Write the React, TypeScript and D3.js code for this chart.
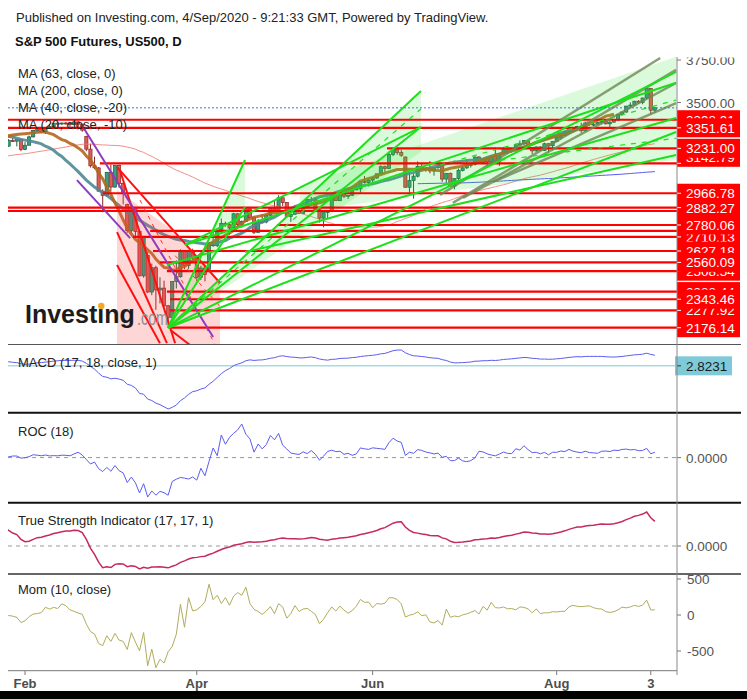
import React from "react";
import * as d3 from "d3";

// ---------- DATA ----------
// warm-up closes (Sep 11 2019 .. Jan 24 2020) used by the moving averages / oscillators
const histCloses = [
  3000, 3009, 3007, 2998, 3006, 3007, 3006, 2992, 2992, 2967, 2985, 2977, 2962, 2977,
  2940, 2888, 2910, 2952, 2939, 2893, 2919, 2938, 2970, 2966, 2996, 2990, 2998, 2986, 3007, 2996, 3004, 3010, 3023, 3039, 3036, 3047, 3038,
  3067, 3078, 3075, 3076, 3085, 3093, 3087, 3091, 3094, 3097, 3120, 3122, 3120, 3108, 3104, 3110, 3134, 3141, 3153, 3153, 3141,
  3114, 3093, 3113, 3117, 3146, 3136, 3133, 3142, 3169, 3169, 3191, 3192, 3191, 3205, 3221, 3224, 3223, 3223, 3240, 3240, 3221, 3231,
  3231, 3258, 3235, 3246, 3237, 3253, 3275, 3265, 3288, 3283, 3289, 3317, 3330, 3330, 3321, 3321, 3326, 3295,
];

const monthKeys = ["2020-01", "2020-02", "2020-03", "2020-04", "2020-05", "2020-06", "2020-07", "2020-08", "2020-09"];
const monthDays = [
  [27, 28, 29, 30, 31],
  [3, 4, 5, 6, 7, 10, 11, 12, 13, 14, 17, 18, 19, 20, 21, 24, 25, 26, 27, 28],
  [2, 3, 4, 5, 6, 9, 10, 11, 12, 13, 16, 17, 18, 19, 20, 23, 24, 25, 26, 27, 30, 31],
  [1, 2, 3, 6, 7, 8, 9, 10, 13, 14, 15, 16, 17, 20, 21, 22, 23, 24, 27, 28, 29, 30],
  [1, 4, 5, 6, 7, 8, 11, 12, 13, 14, 15, 18, 19, 20, 21, 22, 25, 26, 27, 28, 29],
  [1, 2, 3, 4, 5, 8, 9, 10, 11, 12, 15, 16, 17, 18, 19, 22, 23, 24, 25, 26, 29, 30],
  [1, 2, 3, 6, 7, 8, 9, 10, 13, 14, 15, 16, 17, 20, 21, 22, 23, 24, 27, 28, 29, 30, 31],
  [3, 4, 5, 6, 7, 10, 11, 12, 13, 14, 17, 18, 19, 20, 21, 24, 25, 26, 27, 28, 31],
  [1, 2, 3, 4],
];

// [open, high, low, close]
const janBars = [[3270,3272,3234,3244],[3244,3285,3240,3276],[3276,3293,3268,3273],[3273,3285,3242,3284],[3284,3288,3214,3225]];
const febBars = [
  [3225,3268,3220,3249],[3249,3306,3249,3298],[3298,3337,3295,3335],[3335,3347,3330,3346],[3346,3348,3322,3328],
  [3328,3352,3315,3352],[3352,3375,3350,3358],[3358,3381,3356,3379],[3379,3385,3360,3374],[3374,3381,3367,3380],
  [3380,3386,3370,3378],[3378,3380,3356,3370],[3370,3397,3368,3386],[3386,3392,3342,3373],[3373,3374,3328,3338],
  [3300,3305,3214,3226],[3226,3258,3118,3128],[3128,3182,3108,3116],[3116,3120,2977,2979],[2979,2990,2855,2954],
];
const marBars = [
  [2954,3090,2946,3090],[3090,3136,2976,3003],[3003,3130,3000,3130],[3130,3135,2999,3024],[3024,3030,2901,2972],
  [2900,2905,2734,2747],[2747,2882,2734,2882],[2882,2885,2707,2741],[2741,2750,2478,2481],[2481,2711,2470,2711],
  [2600,2620,2380,2386],[2386,2553,2367,2529],[2529,2540,2281,2398],[2398,2473,2319,2409],[2409,2453,2295,2305],
  [2305,2310,2176,2237],[2237,2449,2230,2447],[2447,2572,2407,2476],[2476,2637,2470,2630],[2630,2632,2520,2541],
  [2541,2631,2520,2627],[2627,2641,2572,2585],
];
const aprBars = [
  [2585,2590,2448,2471],[2471,2540,2456,2527],[2527,2539,2448,2489],[2520,2677,2515,2664],[2664,2757,2652,2659],
  [2659,2761,2650,2750],[2750,2818,2740,2790],[2790,2800,2770,2782],[2782,2790,2722,2762],[2762,2852,2760,2846],
  [2846,2848,2761,2783],[2783,2807,2765,2800],[2800,2880,2798,2875],[2875,2877,2821,2823],[2823,2830,2727,2737],
  [2737,2815,2735,2799],[2799,2844,2790,2798],[2798,2842,2790,2837],[2837,2887,2832,2879],[2879,2921,2860,2863],
  [2863,2955,2860,2940],[2940,2945,2892,2912],
];
const mayBars = [
  [2912,2915,2822,2831],[2831,2844,2798,2843],[2843,2898,2840,2868],[2868,2889,2846,2848],[2848,2892,2845,2881],
  [2881,2932,2878,2930],[2930,2945,2909,2930],[2930,2945,2869,2870],[2870,2875,2794,2820],[2820,2853,2766,2853],
  [2853,2865,2816,2864],[2864,2968,2860,2954],[2954,2964,2922,2923],[2923,2981,2920,2972],[2972,2978,2938,2949],
  [2949,2957,2933,2955],[2955,2993,2950,2990],[2990,3021,2985,2992],[2992,3036,2970,3036],[3036,3068,3024,3030],
  [3030,3050,3007,3044],
];
const junBars = [
  [3044,3063,3031,3056],[3056,3081,3052,3081],[3081,3131,3078,3123],[3123,3129,3091,3112],[3112,3212,3108,3194],
  [3194,3231,3185,3229],[3229,3230,3193,3207],[3207,3223,3181,3190],[3180,3182,2999,3002],[3002,3089,2970,3041],
  [3041,3079,2935,3067],[3067,3154,3060,3125],[3125,3141,3108,3114],[3114,3120,3093,3115],[3115,3156,3084,3098],
  [3098,3121,3070,3118],[3118,3155,3110,3131],[3131,3134,3033,3050],[3050,3086,3025,3084],[3084,3088,3004,3009],
  [3009,3054,2990,3053],[3053,3112,3045,3100],
];
const julBars = [
  [3100,3128,3095,3116],[3116,3165,3110,3130],[3130,3140,3118,3135],[3135,3183,3130,3180],[3180,3184,3142,3145],
  [3145,3172,3137,3170],[3170,3179,3115,3152],[3152,3186,3136,3185],[3185,3236,3150,3155],[3155,3200,3128,3198],
  [3198,3238,3195,3227],[3227,3228,3198,3216],[3216,3233,3205,3225],[3225,3258,3212,3252],[3252,3277,3248,3257],
  [3257,3279,3251,3276],[3276,3280,3230,3236],[3236,3238,3198,3216],[3216,3242,3210,3239],[3239,3243,3216,3218],
  [3218,3264,3215,3258],[3258,3260,3205,3246],[3246,3272,3220,3271],
];
const augBars = [
  [3271,3302,3268,3295],[3295,3307,3282,3307],[3307,3331,3300,3328],[3328,3352,3314,3349],[3349,3352,3329,3351],
  [3351,3364,3336,3360],[3360,3382,3322,3334],[3334,3387,3330,3380],[3380,3388,3363,3373],[3373,3380,3362,3373],
  [3373,3387,3370,3382],[3382,3396,3371,3390],[3390,3400,3371,3375],[3375,3391,3354,3385],[3385,3399,3380,3397],
  [3397,3433,3395,3431],[3431,3445,3424,3444],[3444,3481,3440,3479],[3479,3501,3469,3485],[3485,3510,3480,3508],
  [3508,3514,3493,3500],
];
const sepBars = [[3500,3528,3490,3527],[3527,3590,3520,3582],[3582,3586,3430,3455],[3455,3474,3440,3469]];

const tickDates = ["2020-02-03", "2020-04-01", "2020-06-01", "2020-08-03", "2020-09-03"];
const tickLabels = ["Feb", "Apr", "Jun", "Aug", "3"];
const priceTicks = [3750, 3500];
const momTicks = [500, 0, -500];

// horizontal levels: hidden (overlapped) labels first, visible ones last
const levelPrices = [3398.91, 3142.79, 2862.4, 2745.3, 2710.13, 2508.54, 2388.44, 2277.92, 3351.61, 3231.0, 2966.78, 2882.27, 2780.06, 2627.18, 2560.09, 2343.46, 2176.14];
const levelStarts = [-5, 23.3, -5, 35.6, 31.4, 39.7, 39.7, 40.5, -5, 93.5, 24, -5, 66.6, 36.3, 38, 40.5, 40.5];
const levelLabelPush = [0, -6, 0, 0, 0, 0, 0, 0, 0, 0, 0, 0, 0, 0, 0, 0, 0];

// drawings: [barIndex1, price1, barIndex2, price2]
const greenLines = [
  [40, 2176, 58.8, 3162], [40, 2176, 101.8, 3568], [40, 2176, 101.8, 3356], [40, 2176, 164.2, 3680],
  [40, 2176, 164.2, 3327], [44.1, 2662, 101.8, 3356], [44.1, 2662, 164.2, 3616], [39.7, 2545, 164.2, 3409],
  [58.8, 2621, 164.2, 3192], [40, 2176, 58.8, 2886],
];
const greenDashed = [[40, 2176, 101.8, 3462], [106.5, 3133, 164.2, 3515], [121.1, 3161, 164.2, 3290]];
const greenFills = [
  [[40, 2176], [58.8, 3162], [58.8, 2886]],
  [[40, 2176], [101.8, 3568], [101.8, 3209]],
  [[72.2, 3009], [164.2, 3769], [164.2, 3162], [72.2, 2856]],
];
const oliveLines = [[106.5, 2957, 160.3, 3762], [109.6, 2910, 164.2, 3692], [112.1, 2939, 164.2, 3615], [119.4, 3033, 164.2, 3497]];
const redDiag = [[27.5, 3120, 52.7, 2439], [27.5, 2738, 39.7, 2085], [28.2, 3103, 41.7, 2085], [27.5, 2545, 38, 2085], [40.5, 2164, 45.3, 2075]];
const redDashed = [[33.1, 2927, 51.5, 2075], [41.7, 2600, 52.7, 2300]];
const pinkFill = [[27.5, 2986], [41.7, 2739], [52.7, 2439], [52.7, 2075], [27.5, 2075]];
const purpleLines = [[19.2, 3356, 51, 2122], [17.7, 3044, 30.7, 2703]];

const maLegend = ["MA (63, close, 0)", "MA (200, close, 0)", "MA (40, close, -20)", "MA (20, close, -10)"];
const macdLastLabel = "2.8231";

// ---------- COMPONENT ----------
const FONT = "'Liberation Sans', Arial, sans-serif";

export default function App() {
  const bars = [...janBars, ...febBars, ...marBars, ...aprBars, ...mayBars, ...junBars, ...julBars, ...augBars, ...sepBars];
  const dates = monthDays.flatMap((days, m) => days.map((d) => `${monthKeys[m]}-${String(d).padStart(2, "0")}`));
  const closes = bars.map((b) => b[3]);
  const all = [...histCloses, ...closes];
  const NH = histCloses.length;
  const N = bars.length;

  const L = 8, R = 677;
  const x = d3.scaleLinear().domain([0, N - 1]).range([4.55, 4.55 + (N - 1) * 4.09]);
  const y = d3.scaleLinear().domain([2176.14, 3231]).range([327.7, 148.3]);

  const sma = (n: number, j: number) => (j - n + 1 < 0 || j >= all.length ? null : (d3.mean(all.slice(j - n + 1, j + 1)) as number));
  const ema = (src: number[], n: number) => {
    const k = 2 / (n + 1);
    const out: number[] = [];
    src.forEach((v, i) => out.push(i === 0 ? v : v * k + out[i - 1] * (1 - k)));
    return out;
  };
  const idx = d3.range(N);
  const ma63 = idx.map((i) => sma(63, NH + i));
  const ma200 = idx.map((i) => sma(200, NH + i));
  const ma40 = idx.map((i) => sma(40, NH + i + 20));
  const ma20 = idx.map((i) => sma(20, NH + i + 10));

  const e17 = ema(all, 17), e18 = ema(all, 18);
  const macd = idx.map((i) => e17[NH + i] - e18[NH + i]);
  const roc = idx.map((i) => (100 * (all[NH + i] - all[NH + i - 18])) / all[NH + i - 18]);
  const pc = all.map((v, i) => (i === 0 ? 0 : v - all[i - 1]));
  const ds = ema(ema(pc, 17), 17);
  const dsa = ema(ema(pc.map(Math.abs), 17), 17);
  const tsi = idx.map((i) => (100 * ds[NH + i]) / dsa[NH + i]);
  const mom = idx.map((i) => all[NH + i] - all[NH + i - 10]);

  const macdY = d3.scaleLinear().domain(d3.extent(macd) as [number, number]).range([409, 350]);
  const rocY = d3.scaleLinear().domain(d3.extent(roc) as [number, number]).range([497, 424]);
  const tsiY = d3.scaleLinear().domain(d3.extent(tsi) as [number, number]).range([569, 512]);
  const momY = d3.scaleLinear().domain([-500, 500]).range([651, 579]);

  const linePath = (vals: (number | null)[], sy: (v: number) => number) =>
    d3.line<number | null>().defined((v) => v !== null).x((_, i) => x(i)).y((v) => sy(v as number))(vals) || "";
  const seg = (a: number[]) => `M${x(a[0])},${y(a[1])}L${x(a[2])},${y(a[3])}`;
  const poly = (pts: number[][]) => "M" + pts.map((p) => `${x(p[0])},${y(p[1])}`).join("L") + "Z";

  const lastClose = closes[N - 1];
  const txt = { fontFamily: FONT };
  const m0 = macdY(0);

  return (
    <svg width={747} height={699} style={{ position: "absolute", left: 0, top: 0, background: "#fff" }} xmlns="http://www.w3.org/2000/svg">
      <defs>
        <clipPath id="mainClip"><rect x={L} y={55} width={R - L} height={289} /></clipPath>
        <clipPath id="indClip"><rect x={L} y={345} width={R - L} height={330} /></clipPath>
        <clipPath id="axisClip"><rect x={R} y={57.5} width={70} height={287} /></clipPath>
        <clipPath id="macdHidden"><rect x={R} y={345} width={70} height={29} /></clipPath>
      </defs>
      <rect x={0} y={0} width={747} height={699} fill="#fff" />

      {/* header */}
      <text x={16} y={21.5} fontSize={13} fill="#222" style={txt}>Published on Investing.com, 4/Sep/2020 - 9:21:33 GMT, Powered by TradingView.</text>
      <text x={15} y={45.5} fontSize={13} fontWeight="bold" fill="#111" style={txt}>S&amp;P 500 Futures, US500, D</text>

      {/* main panel */}
      <g clipPath="url(#mainClip)">
        {bars.map((b, i) => {
          const [o, h, l, c] = b;
          const up = c >= o;
          const cx = x(i);
          const top = y(Math.max(o, c));
          const bh = Math.max(1, y(Math.min(o, c)) - top);
          const stroke = up ? "#1f5c46" : "#8a2626";
          return (
            <g key={i}>
              <line x1={cx} x2={cx} y1={y(h)} y2={y(l)} stroke={stroke} strokeWidth={1} />
              <rect x={cx - 1.6} y={top} width={3.2} height={bh} fill={up ? "#37a07c" : "#de5b57"} stroke={stroke} strokeWidth={0.7} />
            </g>
          );
        })}
        <path d={linePath(ma63, y)} fill="none" stroke="#f07a72" strokeWidth={1} opacity={0.85} />
        <path d={linePath(ma200, y)} fill="none" stroke="#5a5af0" strokeWidth={1} />
        <path d={linePath(ma40, y)} fill="none" stroke="#4f8893" strokeWidth={3} opacity={0.9} />
        <path d={linePath(ma20, y)} fill="none" stroke="#b5661d" strokeWidth={3} opacity={0.9} />

        <path d={poly(pinkFill)} fill="rgba(255,70,70,0.22)" />
        {greenFills.map((p, i) => (
          <path key={"gf" + i} d={poly(p)} fill="rgba(40,225,40,0.17)" />
        ))}
        {levelPrices.map((p, i) => (
          <line key={"lv" + i} x1={x(levelStarts[i])} x2={R} y1={y(p)} y2={y(p)} stroke="#ff0000" strokeWidth={2.2} />
        ))}
        {redDiag.map((s, i) => (
          <path key={"rd" + i} d={seg(s)} stroke="#ff1010" strokeWidth={2} fill="none" />
        ))}
        {redDashed.map((s, i) => (
          <path key={"rdd" + i} d={seg(s)} stroke="#ff3030" strokeWidth={1} strokeDasharray="4,5" fill="none" />
        ))}
        {purpleLines.map((s, i) => (
          <path key={"pl" + i} d={seg(s)} stroke="#8e3bbd" strokeWidth={2} fill="none" />
        ))}
        {oliveLines.map((s, i) => (
          <path key={"ol" + i} d={seg(s)} stroke="rgba(110,135,85,0.8)" strokeWidth={2.5} fill="none" />
        ))}
        {greenLines.map((s, i) => (
          <path key={"gl" + i} d={seg(s)} stroke="#1be01b" strokeWidth={2} fill="none" />
        ))}
        {greenDashed.map((s, i) => (
          <path key={"gd" + i} d={seg(s)} stroke="#1be01b" strokeWidth={1.2} strokeDasharray="5,6" fill="none" />
        ))}
        <line x1={L} x2={R} y1={y(lastClose)} y2={y(lastClose)} stroke="#3e6ef0" strokeWidth={1} strokeDasharray="2,2" />
      </g>

      {/* watermark */}
      <text x={25} y={323.3} fontSize={25} fontWeight="bold" fill="#1c1c1c" style={txt}>Investing</text>
      <circle cx={101.3} cy={306} r={3.2} fill="#f5a623" />
      <text x={137} y={325} fontSize={20} fill="#8f8f8f" textLength={31} lengthAdjust="spacingAndGlyphs" style={txt}>.com</text>

      {/* MA legend */}
      {maLegend.map((t, i) => (
        <text key={t} x={18} y={77.7 + i * 17} fontSize={13} fill="#222" style={txt}>{t}</text>
      ))}

      {/* price axis labels */}
      <g clipPath="url(#axisClip)">
        {priceTicks.map((p) => (
          <g key={p}>
            <line x1={R} x2={R + 4} y1={y(p)} y2={y(p)} stroke="#777" />
            <text x={686} y={y(p) + 5} fontSize={13.5} fill="#555" style={txt}>{p.toFixed(2)}</text>
          </g>
        ))}
        {levelPrices.map((p, i) => {
          const ly = y(p) + levelLabelPush[i];
          return (
            <g key={"lb" + i}>
              <rect x={R} y={ly - 9.5} width={63} height={19} fill="#ff0000" />
              <line x1={R} x2={R + 4} y1={y(p)} y2={y(p)} stroke="#fff" />
              <text x={686} y={ly + 5} fontSize={13.5} fill="#fff" style={txt}>{p.toFixed(2)}</text>
            </g>
          );
        })}
      </g>

      {/* indicator panels */}
      <g clipPath="url(#indClip)">
        <line x1={L} x2={R} y1={m0} y2={m0} stroke="#a6dbe6" strokeWidth={1.5} />
        <path d={linePath(macd, macdY)} fill="none" stroke="#5c5cf0" strokeWidth={1} />
        <line x1={L} x2={R} y1={rocY(0)} y2={rocY(0)} stroke="#999" strokeDasharray="4,4" />
        <path d={linePath(roc, rocY)} fill="none" stroke="#5c5cf0" strokeWidth={1} />
        <line x1={L} x2={R} y1={tsiY(0)} y2={tsiY(0)} stroke="#999" strokeDasharray="4,4" />
        <path d={linePath(tsi, tsiY)} fill="none" stroke="#c62a5a" strokeWidth={1.5} />
        <path d={linePath(mom, momY)} fill="none" stroke="#b0ad5c" strokeWidth={1} />
      </g>

      <text x={18} y={366.5} fontSize={13} fill="#222" style={txt}>MACD (17, 18, close, 1)</text>
      <text x={18} y={436} fontSize={13} fill="#222" style={txt}>ROC (18)</text>
      <text x={18} y={525} fontSize={13} fill="#222" style={txt}>True Strength Indicator (17, 17, 1)</text>
      <text x={18} y={594} fontSize={13} fill="#222" style={txt}>Mom (10, close)</text>

      {/* indicator axis labels */}
      <g clipPath="url(#macdHidden)">
        <text x={686} y={m0 + 15} fontSize={13.5} fill="#555" style={txt}>0.0000</text>
      </g>
      <rect x={675} y={m0 - 9.5} width={57} height={19} fill="#7fcad8" />
      <line x1={R} x2={R + 4} y1={m0} y2={m0} stroke="#333" />
      <text x={686} y={m0 + 5} fontSize={13.5} fill="#1a1a1a" style={txt}>{macdLastLabel}</text>

      {[rocY(0), tsiY(0)].map((yy, i) => (
        <g key={"z" + i}>
          <line x1={R} x2={R + 4} y1={yy} y2={yy} stroke="#777" />
          <text x={686} y={yy + 5} fontSize={13.5} fill="#555" style={txt}>0.0000</text>
        </g>
      ))}
      {momTicks.map((v) => (
        <g key={"m" + v}>
          <line x1={R} x2={R + 4} y1={momY(v)} y2={momY(v)} stroke="#777" />
          <text x={687} y={momY(v) + 5} fontSize={13.5} fill="#555" style={txt}>{String(v)}</text>
        </g>
      ))}

      {/* separators and axes */}
      <line x1={L} x2={741} y1={344.5} y2={344.5} stroke="#555" strokeWidth={1} />
      <line x1={L} x2={741} y1={412.7} y2={412.7} stroke="#111" strokeWidth={2} />
      <line x1={L} x2={741} y1={502.8} y2={502.8} stroke="#111" strokeWidth={2} />
      <line x1={L} x2={741} y1={574} y2={574} stroke="#333" strokeWidth={1.5} />
      <line x1={L} x2={R} y1={670.7} y2={670.7} stroke="#777" strokeWidth={1} />
      <line x1={R} x2={R} y1={57} y2={675} stroke="#888" strokeWidth={1} />

      {/* time axis */}
      {tickDates.map((d, i) => {
        const xi = x(dates.indexOf(d));
        return (
          <g key={d}>
            <line x1={xi} x2={xi} y1={671} y2={675} stroke="#777" />
            <text x={xi} y={688} fontSize={13} fontWeight="bold" fill="#4d4d4d" textAnchor="middle" style={txt}>{tickLabels[i]}</text>
          </g>
        );
      })}

      <rect x={0} y={691} width={747} height={8} fill="#000" />
    </svg>
  );
}
